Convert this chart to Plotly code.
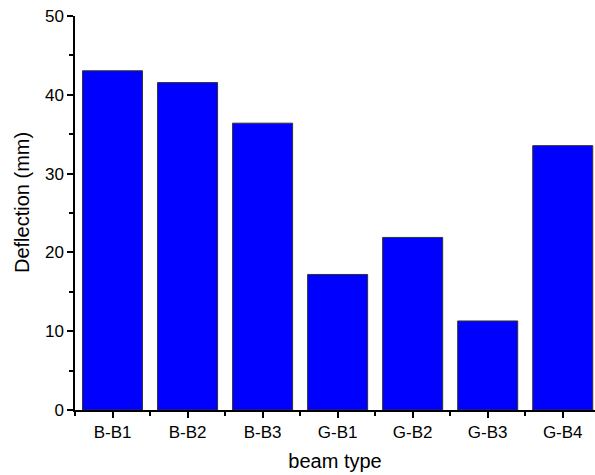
import plotly.graph_objects as go

categories = ["B-B1", "B-B2", "B-B3", "G-B1", "G-B2", "G-B3", "G-B4"]
deflection = [43.05, 41.55, 36.4, 17.2, 21.9, 11.3, 33.55]
y_ticks = [0, 10, 20, 30, 40, 50]

positions = list(range(len(categories)))

fig = go.Figure(go.Bar(
    x=positions, y=deflection, width=0.8,
    marker=dict(color="#0000FF", line=dict(color="#333333", width=1)),
))

font = "Liberation Sans, Arial, sans-serif"
fig.update_layout(
    width=595, height=475,
    margin=dict(l=75, r=0, t=16, b=65),
    plot_bgcolor="white", paper_bgcolor="white",
    showlegend=False,
    font=dict(family=font, size=17, color="black"),
    bargap=0.2,
    annotations=[dict(
        text="Deflection (mm)", textangle=-90, xref="paper", yref="paper",
        x=-75 / 520 + 22 / 520, y=(410 - 203) / 394, xanchor="center", yanchor="middle",
        showarrow=False, font=dict(size=20, family=font, color="black"),
    )],
)
fig.update_xaxes(
    range=[-0.5, 6.43], tickmode="array", tickvals=positions, ticktext=categories,
    showline=True, linecolor="black", linewidth=1.5, showgrid=False, zeroline=False,
    ticks="outside", ticklen=6, tickwidth=1.5, tickcolor="black",
    minor=dict(tick0=0.5, dtick=1, ticks="outside", ticklen=4, tickwidth=1.5, tickcolor="black", showgrid=False),
    title=dict(text="beam type", font=dict(size=20), standoff=13),
    tickfont=dict(size=17),
)
fig.update_yaxes(
    range=[0, 50], tickmode="array", tickvals=y_ticks,
    showline=True, linecolor="black", linewidth=1.5, showgrid=False, zeroline=False,
    ticks="outside", ticklen=6, tickwidth=1.5, tickcolor="black",
    minor=dict(dtick=5, tick0=0, ticks="outside", ticklen=4, tickwidth=1.5, tickcolor="black", showgrid=False),
    tickfont=dict(size=17),
)

fig.write_html("out.html")
